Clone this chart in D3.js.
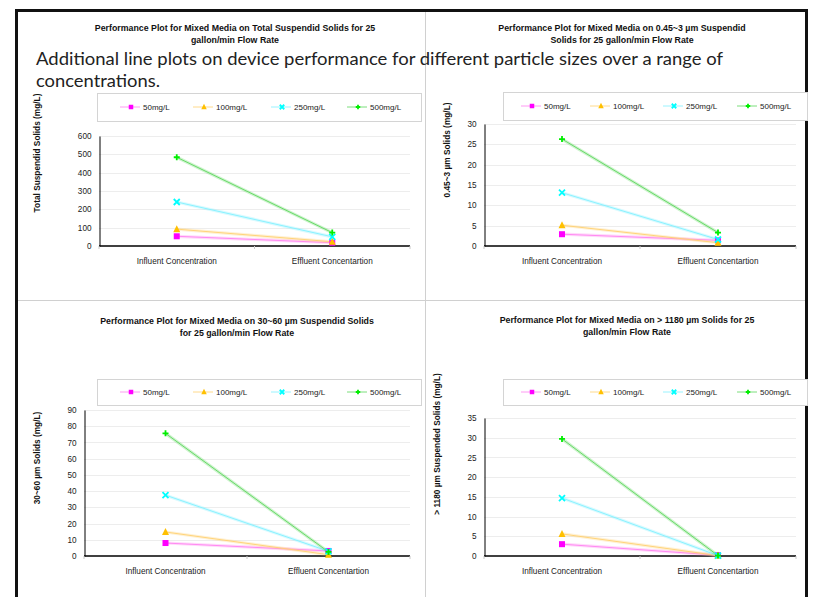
<!DOCTYPE html>
<html>
<head>
<meta charset="utf-8">
<script src="https://cdn.jsdelivr.net/npm/d3@7"></script>
<style>
  html, body { margin: 0; padding: 0; background: #fff; }
  svg { display: block; }
</style>
</head>
<body>
<svg id="chart" width="813" height="597"></svg>
<script>
// Categories along the x axis of every panel
const categories = ["Influent Concentration", "Effluent Concentartion"];
// Loading series (influent concentration of the test)
const seriesNames = ["50mg/L", "100mg/L", "250mg/L", "500mg/L"];

// Total suspended solids (mg/L): [influent, effluent] per series
const tssValues = [[53, 18], [92, 23], [240, 50], [484, 73]];
// 0.45~3 µm solids (mg/L)
const fineValues = [[2.9, 1.4], [5.1, 0.8], [13.1, 1.6], [26.3, 3.3]];
// 30~60 µm solids (mg/L)
const midValues = [[8.0, 3.1], [14.8, 0.8], [37.5, 2.9], [75.6, 2.5]];
// > 1180 µm solids (mg/L)
const coarseValues = [[3.0, 0.2], [5.6, 0.1], [14.7, 0.1], [29.7, 0.1]];

// Y tick values per panel
const tssTicks = [0, 100, 200, 300, 400, 500, 600];
const fineTicks = [0, 5, 10, 15, 20, 25, 30];
const midTicks = [0, 10, 20, 30, 40, 50, 60, 70, 80, 90];
const coarseTicks = [0, 5, 10, 15, 20, 25, 30, 35];

// Panel titles and axis titles
const panelTitles = [
  ["Performance Plot for Mixed Media on Total Suspendid Solids for 25", "gallon/min Flow Rate"],
  ["Performance Plot for Mixed Media on 0.45~3 µm Suspendid", "Solids for 25 gallon/min Flow Rate"],
  ["Performance Plot for Mixed Media on 30~60 µm Suspendid Solids", "for 25 gallon/min Flow Rate"],
  ["Performance Plot for Mixed Media on > 1180 µm Solids for 25", "gallon/min Flow Rate"]
];
const yTitles = [
  "Total Suspendid Solids (mg/L)",
  "0.45~3 µm Solids (mg/L)",
  "30~60 µm Solids (mg/L)",
  "> 1180 µm Suspended Solids (mg/L)"
];
const overlayLines = [
  "Additional line plots on device performance for different particle sizes over a range of",
  "concentrations."
];

// Series styling
const markerColors = ["#ff00ff", "#ffc000", "#00ffff", "#00ee00"];
const lineColors = ["#ff80f0", "#ffd070", "#80f0ff", "#5cd65c"];
const markerTypes = ["square", "triangle", "x", "plus"];

const FONT = "'Liberation Sans', Arial, sans-serif";
const svg = d3.select("#chart");

// Outer slide frame and the divider lines between the four charts
svg.append("line").attr("x1", 425.5).attr("x2", 425.5).attr("y1", 9).attr("y2", 597)
  .attr("stroke", "#d0d0d0").attr("stroke-width", 1);
svg.append("line").attr("x1", 17).attr("x2", 805).attr("y1", 300.5).attr("y2", 300.5)
  .attr("stroke", "#d0d0d0").attr("stroke-width", 1);
svg.append("path")
  .attr("d", "M16.5,597 V10.5 H806.5 V597")
  .attr("fill", "none").attr("stroke", "#111").attr("stroke-width", 3);

function drawMarker(g, type, x, y, size, color) {
  const h = size / 2;
  if (type === "square") {
    g.append("rect").attr("x", x - h).attr("y", y - h).attr("width", size).attr("height", size)
      .attr("fill", color);
  } else if (type === "triangle") {
    g.append("path")
      .attr("d", `M${x},${y - h - 1}L${x + h + 0.5},${y + h}L${x - h - 0.5},${y + h}Z`)
      .attr("fill", color);
  } else if (type === "x") {
    g.append("path")
      .attr("d", `M${x - h},${y - h}L${x + h},${y + h}M${x - h},${y + h}L${x + h},${y - h}`)
      .attr("stroke", color).attr("stroke-width", 1.8).attr("fill", "none");
  } else {
    g.append("path")
      .attr("d", `M${x - h},${y}H${x + h}M${x},${y - h}V${y + h}`)
      .attr("stroke", color).attr("stroke-width", 1.8).attr("fill", "none");
  }
}

const panels = [
  { values: tssValues, ticks: tssTicks, title: panelTitles[0], yTitle: yTitles[0],
    titleX: 235, titleY: 31, x0: 99, x1: 410, yTop: 136, yBottom: 246, tickRight: 91,
    yTitleX: 40, yTitleY: 153, legend: { x: 97, y: 93, w: 324, h: 28, items: [120, 193, 271, 347] } },
  { values: fineValues, ticks: fineTicks, title: panelTitles[1], yTitle: yTitles[1],
    titleX: 622, titleY: 31, x0: 484, x1: 796, yTop: 124, yBottom: 246, tickRight: 476,
    yTitleX: 450, yTitleY: 150, legend: { x: 503, y: 92, w: 304, h: 28, items: [521, 590, 663, 737] } },
  { values: midValues, ticks: midTicks, title: panelTitles[2], yTitle: yTitles[2],
    titleX: 237, titleY: 324, x0: 84, x1: 410, yTop: 410, yBottom: 556, tickRight: 76,
    yTitleX: 40, yTitleY: 458, legend: { x: 97, y: 379, w: 324, h: 26, items: [120, 193, 271, 347] } },
  { values: coarseValues, ticks: coarseTicks, title: panelTitles[3], yTitle: yTitles[3],
    titleX: 627, titleY: 323, x0: 484, x1: 796, yTop: 418, yBottom: 556, tickRight: 476,
    yTitleX: 440, yTitleY: 444, legend: { x: 503, y: 379, w: 304, h: 26, items: [521, 590, 663, 737] } }
];

panels.forEach(p => {
  const g = svg.append("g");

  // Title (two lines, bold)
  g.append("text").attr("x", p.titleX).attr("y", p.titleY)
    .attr("text-anchor", "middle").attr("font-family", FONT).attr("font-weight", "bold")
    .attr("font-size", 8.8).attr("fill", "#111")
    .selectAll("tspan").data(p.title).join("tspan")
    .attr("x", p.titleX).attr("dy", (d, i) => i === 0 ? 0 : 11.5).text(d => d);

  // Legend box
  const L = p.legend;
  g.append("rect").attr("x", L.x + 0.5).attr("y", L.y + 0.5).attr("width", L.w).attr("height", L.h)
    .attr("fill", "#fff").attr("stroke", "#d4d4d4");
  const ly = L.y + L.h / 2;
  seriesNames.forEach((name, i) => {
    const lx = L.items[i];
    g.append("line").attr("x1", lx).attr("x2", lx + 20).attr("y1", ly).attr("y2", ly)
      .attr("stroke", lineColors[i]).attr("stroke-width", 0.8);
    drawMarker(g, markerTypes[i], lx + 11, ly, 4.5, markerColors[i]);
    g.append("text").attr("x", lx + 23).attr("y", ly + 3).attr("font-family", FONT)
      .attr("font-size", 8).attr("fill", "#222").text(name);
  });

  // Scales
  const y = d3.scaleLinear().domain([p.ticks[0], p.ticks[p.ticks.length - 1]]).range([p.yBottom, p.yTop]);
  const x = d3.scaleBand().domain(categories).range([p.x0, p.x1]).padding(0);
  const cx = c => x(c) + x.bandwidth() / 2;

  // Gridlines
  g.append("g").selectAll("line").data(p.ticks.slice(1)).join("line")
    .attr("x1", p.x0).attr("x2", p.x1)
    .attr("y1", d => Math.round(y(d)) + 0.5).attr("y2", d => Math.round(y(d)) + 0.5)
    .attr("stroke", "#ededed");

  // Y axis
  const yAxis = g.append("g").attr("transform", `translate(${p.x0 + 0.5},0)`)
    .call(d3.axisLeft(y).tickValues(p.ticks).tickSize(0).tickPadding(p.x0 - p.tickRight));
  yAxis.select(".domain").attr("stroke", "#000").attr("stroke-width", 1);
  yAxis.selectAll("text").attr("font-family", FONT).attr("font-size", 8.2).attr("fill", "#222");

  // X axis with boundary ticks between categories
  const xAxisG = g.append("g").attr("transform", `translate(0,${p.yBottom})`);
  xAxisG.append("line").attr("x1", p.x0).attr("x2", p.x1).attr("y1", 0).attr("y2", 0)
    .attr("stroke", "#000").attr("stroke-width", 1.5);
  const bounds = [p.x0, x(categories[1]), p.x1];
  xAxisG.selectAll("line.tick").data(bounds).join("line").attr("class", "tick")
    .attr("x1", d => d).attr("x2", d => d).attr("y1", 0).attr("y2", 3)
    .attr("stroke", "#c8c8c8");
  xAxisG.selectAll("text").data(categories).join("text")
    .attr("x", d => cx(d)).attr("y", 18).attr("text-anchor", "middle")
    .attr("font-family", FONT).attr("font-size", 8.2).attr("fill", "#222").text(d => d);

  // Y axis title
  g.append("text").attr("transform", `translate(${p.yTitleX},${p.yTitleY}) rotate(-90)`)
    .attr("text-anchor", "middle").attr("font-family", FONT).attr("font-weight", "bold")
    .attr("font-size", 8.3).attr("fill", "#111").text(p.yTitle);

  // Series lines: faint pastel band with a thin core, then markers
  const line = d3.line().x((d, i) => cx(categories[i])).y(d => y(d));
  p.values.forEach((vals, i) => {
    g.append("path").attr("d", line(vals)).attr("fill", "none")
      .attr("stroke", lineColors[i]).attr("stroke-opacity", 0.3).attr("stroke-width", 3.2);
    g.append("path").attr("d", line(vals)).attr("fill", "none")
      .attr("stroke", lineColors[i]).attr("stroke-width", 0.9);
  });
  p.values.forEach((vals, i) => {
    vals.forEach((v, j) => drawMarker(g, markerTypes[i], cx(categories[j]), y(v), 6, markerColors[i]));
  });
});

// Slide caption placed over the top charts
const cap = svg.append("g").attr("font-family", "Lato, 'Open Sans', sans-serif")
  .attr("font-size", 18).attr("fill", "#222");
cap.append("text").attr("x", 36).attr("y", 65).attr("textLength", 687)
  .attr("lengthAdjust", "spacingAndGlyphs").text(overlayLines[0]);
cap.append("text").attr("x", 36).attr("y", 87).attr("textLength", 124)
  .attr("lengthAdjust", "spacingAndGlyphs").text(overlayLines[1]);
</script>
</body>
</html>
